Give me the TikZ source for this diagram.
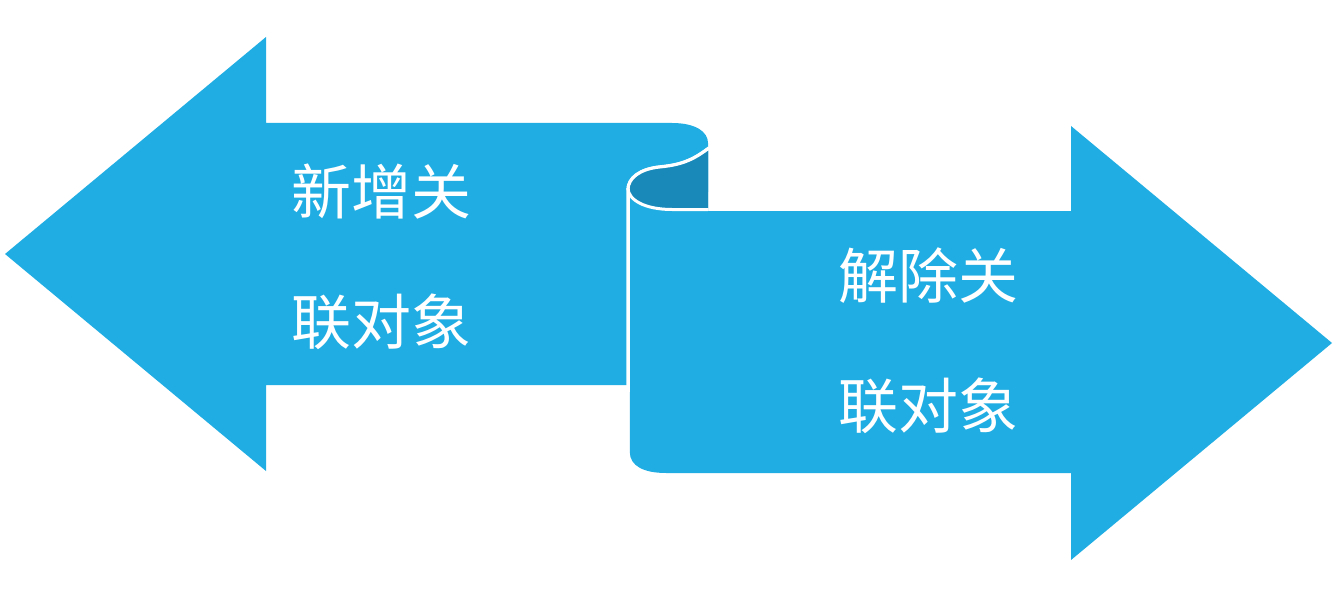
\documentclass[tikz,border=0pt]{standalone}
\usepackage{fontspec}
\newfontfamily\cjk{Noto Sans CJK SC}
\definecolor{ribbon}{RGB}{31,173,227}
\definecolor{rollin}{RGB}{25,137,186}
\begin{document}
\begin{tikzpicture}[x=1pt,y=-1pt,
  lbl/.style={text=white,inner sep=0pt,align=left,font=\cjk\fontsize{60}{130}\selectfont},
  edge/.style={draw=white,line width=3.5pt}]
\useasboundingbox (0,0) rectangle (1337,596);
% left arrow
\fill[ribbon] (5,254) -- (266,37) -- (266,123) -- (672,123)
  .. controls (696,123) and (708,132) .. (708,143) -- (708,192) -- (627,192)
  -- (627,385) -- (266,385) -- (266,471) -- cycle;
% right arrow (front ribbon)
\fill[ribbon]
  (628,190) .. controls (628,178) and (640,169) .. (660,167)
  .. controls (680,165) and (692,161) .. (708,149) -- (708,211)
  -- (1071,211) -- (1071,126) -- (1332,343) -- (1071,560) -- (1071,473)
  -- (666,473) .. controls (644,473) and (629.8,466) .. (629.8,452)
  -- (629.8,200) -- cycle;
\draw[edge] (628,392) -- (628,190) .. controls (628,178) and (640,169) .. (660,167)
  .. controls (680,165) and (692,161) .. (709,148);
% inside of the roll
\fill[rollin]
  (628,190) .. controls (628,178) and (640,169) .. (660,167)
  .. controls (680,165) and (692,161) .. (708,149) -- (708,208)
  -- (672,208) .. controls (645,208) and (628,200) .. (628,190) -- cycle;
\draw[draw=white,line width=3pt] (628,190) .. controls (628,178) and (640,169) .. (660,167)
  .. controls (680,165) and (692,161) .. (709,148);
\draw[draw=white,line width=3pt] (628,188) .. controls (628,200) and (645,209.5) .. (672,209.5) -- (708,209.5);
% labels
\node[lbl] (a) at (381,257) {新增关\\联对象};
\node[lbl] (b) at (928,341) {解除关\\联对象};
\end{tikzpicture}
\end{document}
